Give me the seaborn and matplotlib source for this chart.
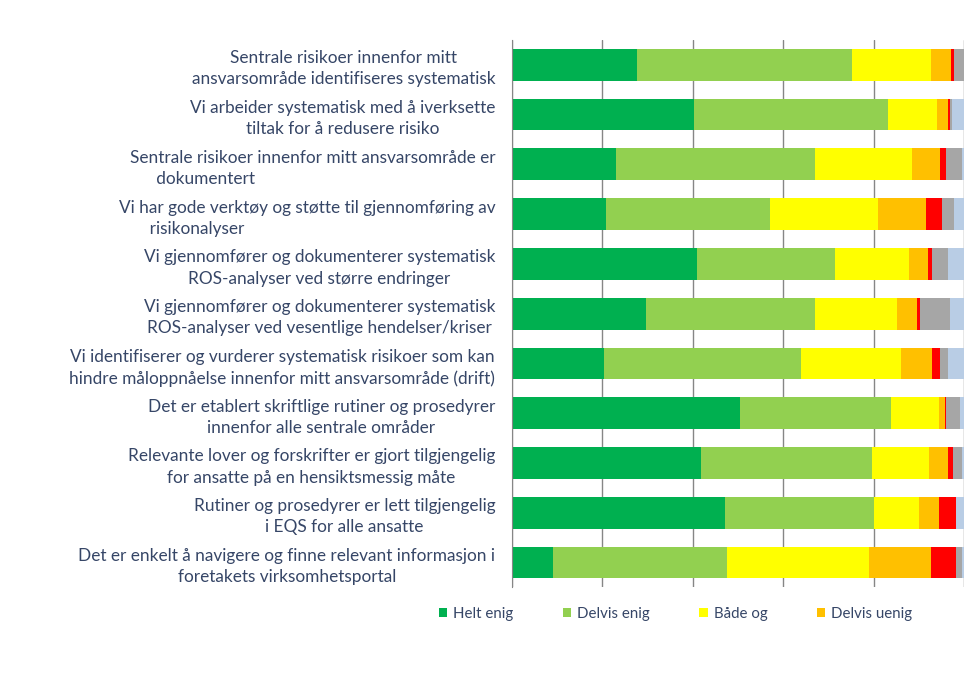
import numpy as np
import pandas as pd
import matplotlib
matplotlib.use("Agg")
import matplotlib.pyplot as plt
from matplotlib.patches import Patch
import seaborn as sns

# Statements (top to bottom)
categories = [
    "Sentrale risikoer innenfor mitt\nansvarsområde identifiseres systematisk",
    "Vi arbeider systematisk med å iverksette\ntiltak for å redusere risiko",
    "Sentrale risikoer innenfor mitt ansvarsområde er\n      dokumentert",
    "Vi har gode verktøy og støtte til gjennomføring av\n       risikonalyser",
    "Vi gjennomfører og dokumenterer systematisk\nROS-analyser ved større endringer",
    "Vi gjennomfører og dokumenterer systematisk\nROS-analyser ved vesentlige hendelser/kriser",
    "Vi identifiserer og vurderer systematisk risikoer som kan\nhindre måloppnåelse innenfor mitt ansvarsområde (drift)",
    "Det er etablert skriftlige rutiner og prosedyrer\ninnenfor alle sentrale områder",
    "Relevante lover og forskrifter er gjort tilgjengelig\nfor ansatte på en hensiktsmessig måte",
    "Rutiner og prosedyrer er lett tilgjengelig\ni EQS for alle ansatte",
    "Det er enkelt å navigere og finne relevant informasjon i\nforetakets virksomhetsportal",
]
left_aligned_rows = [2, 3]

# Share of answers (%) per response option
helt_enig = [27.7, 40.3, 22.9, 20.9, 41.0, 29.7, 20.4, 50.3, 41.7, 47.0, 9.1]
delvis_enig = [47.4, 42.7, 44.1, 36.2, 30.5, 37.2, 43.4, 33.4, 37.8, 32.9, 38.5]
baade_og = [17.5, 10.9, 21.3, 23.7, 16.2, 18.1, 22.1, 10.6, 12.6, 10.0, 31.2]
delvis_uenig = [4.4, 2.4, 6.2, 10.6, 4.2, 4.5, 6.9, 1.3, 4.2, 4.4, 13.8]
helt_uenig = [0.6, 0.5, 1.4, 3.6, 0.9, 0.6, 1.7, 0.3, 1.1, 3.9, 5.5]
vet_ikke = [2.4, 0.5, 3.5, 2.6, 3.5, 6.7, 1.8, 3.1, 2.0, 0.0, 1.3]
ikke_relevant = [0.0, 2.7, 0.6, 2.4, 3.7, 3.2, 3.7, 1.0, 0.6, 1.8, 0.6]

series_names = ["Helt enig", "Delvis enig", "Både og", "Delvis uenig",
                "Helt uenig", "Vet ikke", "Ikke relevant"]
series_values = [helt_enig, delvis_enig, baade_og, delvis_uenig,
                 helt_uenig, vet_ikke, ikke_relevant]
colors = ["#00B050", "#92D050", "#FFFF00", "#FFC000",
          "#FF0000", "#A6A6A6", "#B9CDE5"]
legend_shown = 4

text_color = "#364667"

df = pd.DataFrame(dict(zip(series_names, series_values)))
df["Påstand"] = categories
cum = df[series_names].cumsum(axis=1)

sns.set_style("white")
plt.rcParams["font.family"] = ["Lato", "DejaVu Sans"]

fig = plt.figure(figsize=(9.64, 6.76), dpi=100)
ax = fig.add_axes([0.531, 0.131, 0.4695, 0.810])

# stacked bars: draw cumulative totals from the widest down
for name, color in reversed(list(zip(series_names, colors))):
    sns.barplot(x=cum[name], y=df["Påstand"], orient="h", color=color,
                saturation=1, width=0.64, errorbar=None, linewidth=0,
                ax=ax)

ax.set_xlim(0, 100)
ax.set_xticks(np.arange(0, 101, 20))
ax.set_xticklabels([])
ax.set_xlabel("")
ax.set_ylabel("")
ax.set_axisbelow(True)
ax.xaxis.grid(True, color="#868686", linewidth=1)
ax.yaxis.grid(False)
for side in ["top", "right", "bottom"]:
    ax.spines[side].set_visible(False)
ax.spines["left"].set_color("#868686")
ax.tick_params(axis="both", length=0)
ax.tick_params(axis="y", pad=12, labelsize=12.4, labelcolor=text_color)
for i, t in enumerate(ax.get_yticklabels()):
    t.set_multialignment("left" if i in left_aligned_rows else "center")
    t.set_linespacing(1.4)

handles = [Patch(facecolor=c, edgecolor="none")
           for c in colors[:legend_shown]]
fig.legend(handles, series_names[:legend_shown], loc="center",
           bbox_to_anchor=(0.7007, 0.092), ncol=legend_shown, frameon=False,
           handlelength=0.55, handleheight=0.55, handletextpad=0.4,
           columnspacing=3.3, fontsize=10.8, labelcolor=text_color)

fig.savefig("out.png", dpi=100)
